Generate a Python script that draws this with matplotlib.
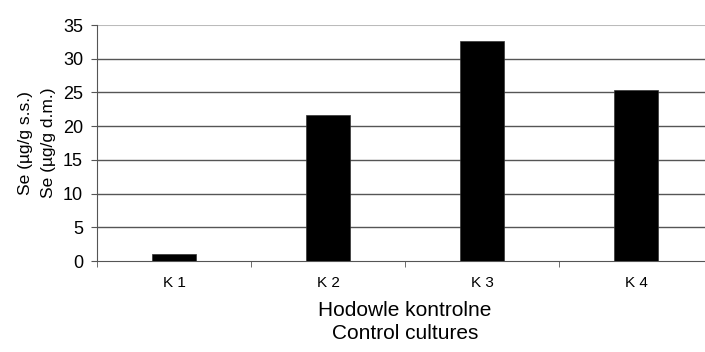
import numpy as np
import matplotlib.pyplot as plt

plt.rcParams['font.family'] = ['Liberation Sans', 'DejaVu Sans']

# data
cultures = ["K 1", "K 2", "K 3", "K 4"]
se_values = [1.0, 21.7, 32.6, 25.3]
y_ticks = [0, 5, 10, 15, 20, 25, 30, 35]

fig = plt.figure(figsize=(7.05, 3.52), dpi=100)
ax = fig.add_axes([97/705, 1 - 261/352, 616/705, 236/352])

x = np.arange(len(cultures))
ax.bar(x, se_values, width=0.29, color="black", edgecolor="#333333", linewidth=0.5, zorder=3)

ax.set_xlim(-0.5, len(cultures) - 0.5)
ax.set_ylim(0, 35)
ax.set_yticks(y_ticks)
ax.set_yticklabels([str(t) for t in y_ticks], fontsize=13)

# category labels centred, tick marks between categories
ax.set_xticks(x)
ax.set_xticklabels(cultures, fontsize=11)
ax.tick_params(axis="x", length=0, pad=11)
ax.set_xticks(np.arange(-0.5, len(cultures)), minor=True)
ax.tick_params(axis="x", which="minor", length=4, color="#555555", direction="out")
ax.tick_params(axis="y", length=4, color="#555555", direction="out", pad=6)

# gridlines
for t in y_ticks[1:-1]:
    ax.axhline(t, color="#555555", linewidth=1, zorder=1)
ax.axhline(35, color="#bbbbbb", linewidth=1.5, zorder=1)

for s in ["top", "right"]:
    ax.spines[s].set_visible(False)
ax.spines["left"].set_color("#555555")
ax.spines["bottom"].set_color("#555555")

ax.set_xlabel("Hodowle kontrolne\nControl cultures", fontsize=15, labelpad=8, linespacing=1.25)
ax.set_ylabel("Se (µg/g s.s.)\nSe (µg/g d.m.)", fontsize=12.5, labelpad=5, linespacing=1.65)

fig.savefig("out.png", dpi=100)
